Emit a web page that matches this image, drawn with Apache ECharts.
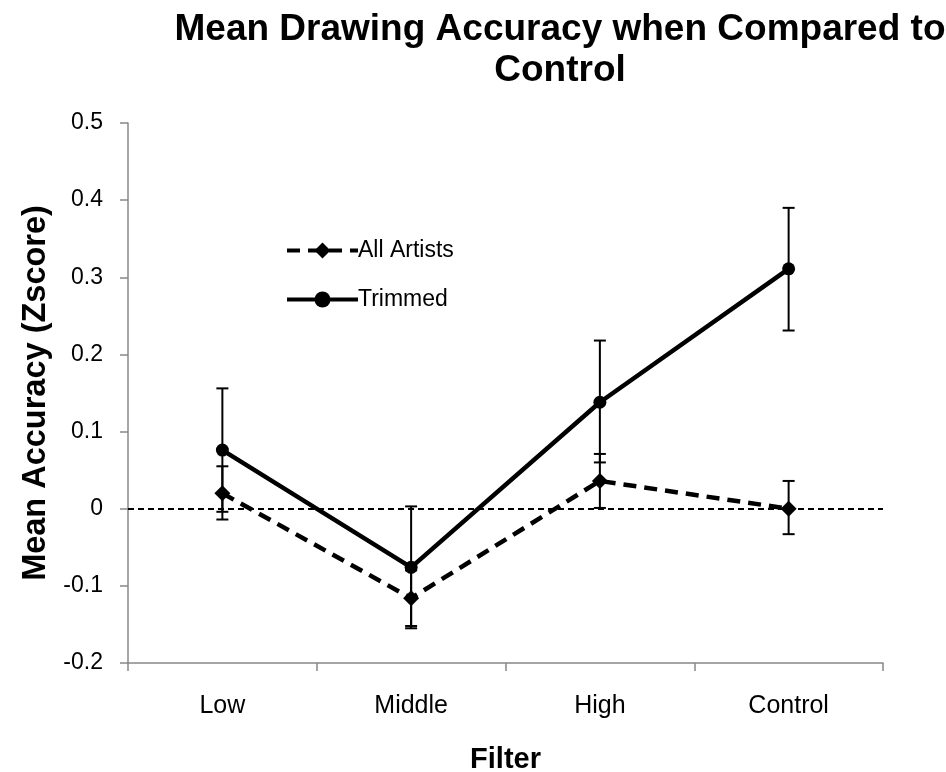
<!DOCTYPE html>
<html>
<head>
<meta charset="utf-8">
<script src="https://cdn.jsdelivr.net/npm/echarts@6/dist/echarts.min.js"></script>
<style>
html,body{margin:0;padding:0;background:#fff;}
#chart{width:946px;height:772px;}
</style>
</head>
<body>
<div id="chart"></div>
<script>
// ---- data ----
const categories = ['Low', 'Middle', 'High', 'Control'];
const allArtistsMean = [0.020, -0.116, 0.036, 0.000];
const allArtistsLow  = [-0.014, -0.152, 0.001, -0.033];
const allArtistsHigh = [0.055, -0.080, 0.071, 0.036];
const trimmedMean = [0.076, -0.076, 0.138, 0.311];
const trimmedLow  = [-0.004, -0.155, 0.060, 0.231];
const trimmedHigh = [0.156, 0.003, 0.218, 0.390];
const yTicks = {min: -0.2, max: 0.5, interval: 0.1};

const FONT = "'Liberation Sans', Arial, sans-serif";

function errData(lo, hi) {
  return categories.map((c, i) => [i, lo[i], hi[i]]);
}

function renderErr(params, api) {
  const i = api.value(0);
  const p1 = api.coord([i, api.value(1)]);
  const p2 = api.coord([i, api.value(2)]);
  const hw = 6;
  const style = {stroke: '#000', lineWidth: 2};
  return {
    type: 'group',
    children: [
      {type: 'line', shape: {x1: p1[0], y1: p1[1], x2: p2[0], y2: p2[1]}, style: style},
      {type: 'line', shape: {x1: p1[0] - hw, y1: p1[1], x2: p1[0] + hw, y2: p1[1]}, style: style},
      {type: 'line', shape: {x1: p2[0] - hw, y1: p2[1], x2: p2[0] + hw, y2: p2[1]}, style: style}
    ]
  };
}

const chart = echarts.init(document.getElementById('chart'), null, {renderer: 'canvas'});
chart.setOption({
  animation: false,
  backgroundColor: '#fff',
  title: {
    text: 'Mean Drawing Accuracy when Compared to\nControl',
    left: 555,
    top: 4,
    textAlign: 'center',
    textStyle: {fontFamily: FONT, fontSize: 37, fontWeight: 'bold', color: '#000', lineHeight: 41}
  },
  legend: {
    orient: 'vertical',
    left: 280,
    top: 234,
    itemWidth: 71,
    itemHeight: 20,
    itemGap: 26,
    lineStyle: {width: 4},
    textStyle: {fontFamily: FONT, fontSize: 23, color: '#000', padding: [0, 0, 0, -5]},
    data: ['All Artists', 'Trimmed']
  },
  grid: {left: 128, right: 63, top: 123, bottom: 109, containLabel: false, outerBoundsMode: 'none'},
  xAxis: {
    type: 'category',
    data: categories,
    boundaryGap: true,
    name: 'Filter',
    nameLocation: 'middle',
    nameGap: 82,
    nameTextStyle: {fontFamily: FONT, fontSize: 29, fontWeight: 'bold', color: '#000'},
    axisLine: {onZero: false, lineStyle: {color: '#888', width: 1.5}},
    axisTick: {show: true, length: 8, alignWithLabel: false, lineStyle: {color: '#888', width: 1.5}},
    axisLabel: {fontFamily: FONT, fontSize: 25, color: '#000', margin: 31},
    splitLine: {show: false}
  },
  yAxis: {
    type: 'value',
    min: yTicks.min,
    max: yTicks.max,
    interval: yTicks.interval,
    name: 'Mean Accuracy (Zscore)',
    nameLocation: 'middle',
    nameGap: 62,
    nameTextStyle: {fontFamily: FONT, fontSize: 32.5, fontWeight: 'bold', color: '#000'},
    axisLine: {show: true, onZero: false, lineStyle: {color: '#888', width: 1.5}},
    axisTick: {show: true, length: 8, lineStyle: {color: '#888', width: 1.5}},
    axisLabel: {fontFamily: FONT, fontSize: 23, color: '#000', margin: 25,
      formatter: v => String(Math.round(v * 10) / 10)},
    splitLine: {show: false}
  },
  series: [
    {
      name: 'All Artists',
      type: 'line',
      data: allArtistsMean,
      symbol: 'diamond',
      symbolSize: 16,
      showSymbol: true,
      lineStyle: {color: '#000', width: 4.5, type: [13, 8]},
      itemStyle: {color: '#000'},
      z: 3,
      markLine: {
        silent: true,
        symbol: 'none',
        label: {show: false},
        lineStyle: {color: '#000', width: 2, type: [6, 4]},
        data: [{yAxis: 0}]
      }
    },
    {
      name: 'Trimmed',
      type: 'line',
      data: trimmedMean,
      symbol: 'circle',
      symbolSize: 13,
      showSymbol: true,
      lineStyle: {color: '#000', width: 4.5, type: 'solid'},
      itemStyle: {color: '#000'},
      z: 3
    },
    {
      name: 'All Artists err',
      type: 'custom',
      renderItem: renderErr,
      data: errData(allArtistsLow, allArtistsHigh),
      encode: {x: 0, y: [1, 2]},
      z: 4,
      silent: true
    },
    {
      name: 'Trimmed err',
      type: 'custom',
      renderItem: renderErr,
      data: errData(trimmedLow, trimmedHigh),
      encode: {x: 0, y: [1, 2]},
      z: 4,
      silent: true
    }
  ]
});
</script>
</body>
</html>
